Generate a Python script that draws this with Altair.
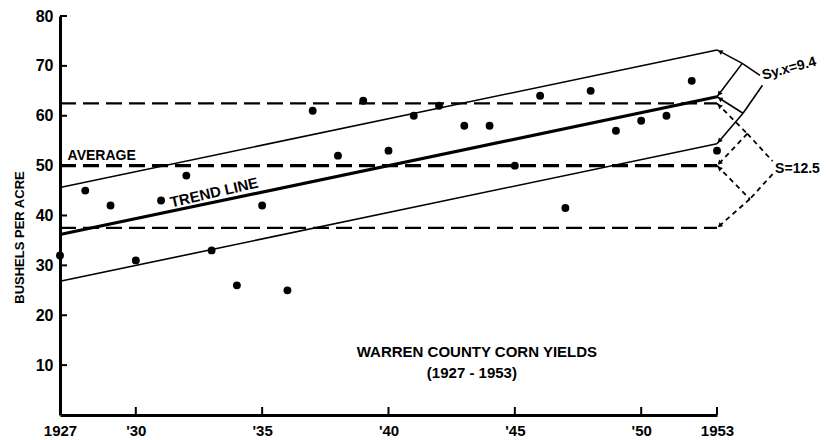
import math
import altair as alt
import pandas as pd

# ---------------- data ----------------
years = list(range(1927, 1954))
yields = [32, 45, 42, 31, 43, 48, 33, 26, 42, 25, 61, 52, 63, 53, 60,
          62, 58, 58, 50, 64, 41.5, 65, 57, 59, 60, 67, 53]

band_x = [1927, 1953]
trend_y = [36.2, 63.8]
upper_y = [45.6, 73.2]
lower_y = [26.8, 54.4]
band_names = ["trend", "upper", "lower"]
band_widths = [3.2, 1.6, 1.6]

mean_levels = [62.5, 50.0, 37.5]
mean_widths = [2.2, 3.2, 2.2]

x_tick_values = [1927, 1930, 1935, 1940, 1945, 1950, 1953]
x_tick_labels = ["1927", "'30", "'35", "'40", "'45", "'50", "1953"]
x_minor_ticks = [1930, 1935, 1940, 1945, 1950, 1953]
y_tick_values = [10, 20, 30, 40, 50, 60, 70, 80]

# bracket geometry (year, bushels): top end, middle, bottom end, vertices, label anchors
sy_pts = {"T": (1953, 73.2), "M": (1953, 63.8), "B": (1953, 54.4),
          "V1": (1954.0, 70.5), "V2": (1954.03, 60.5),
          "P1": (1954.7, 68.1), "P2": (1954.8, 66.1)}
s_pts = {"T": (1953, 62.5), "M": (1953, 50.0), "B": (1953, 37.5),
         "V1": (1954.2, 56.4), "V2": (1954.3, 43.3),
         "P1": (1955.2, 50.9), "P2": (1955.2, 48.3)}

ann_left_text = ["AVERAGE", "Sy.x=9.4", "S=12.5"]
ann_left_x = [1927.3, 1954.8, 1955.3]
ann_left_y = [52.0, 68.0, 49.4]
ann_left_angle = [0, 345, 0]
ann_left_size = [14, 14, 14]

ann_center_text = ["TREND LINE", "WARREN COUNTY CORN YIELDS", "(1927 - 1953)"]
ann_center_x = [1933.1, 1943.5, 1943.3]
ann_center_y = [44.6, 12.6, 8.4]
ann_center_angle = [347, 0, 0]

# ---------------- layout ----------------
W, H = 657, 399
PXX = W / (band_x[1] - band_x[0])
PXY = H / 80.0
FONT = "Liberation Sans"

xs = alt.Scale(domain=[1927, 1953], nice=False, zero=False)
ys = alt.Scale(domain=[0, 80], nice=False, zero=False)

label_expr = " : ".join(
    f'datum.value == {v} ? "{l}"' for v, l in zip(x_tick_values, x_tick_labels)
) + ' : ""'

X_AXIS = alt.Axis(values=x_tick_values, labelExpr=label_expr, ticks=False,
                  grid=False, domainWidth=3, domainColor="black",
                  labelFontSize=15, labelFontWeight="bold", labelFont=FONT,
                  labelColor="black", labelPadding=8, labelFlush=False,
                  labelOverlap=False, title=None)
Y_AXIS = alt.Axis(values=y_tick_values, ticks=False, grid=False,
                  domainWidth=3, domainColor="black",
                  labelFontSize=16, labelFontWeight="bold", labelFont=FONT,
                  labelColor="black", labelPadding=7, labelOverlap=False,
                  title="BUSHELS PER ACRE", titleFont=FONT, titleFontSize=13,
                  titleFontWeight="bold", titleColor="black",
                  titleAngle=270, titleX=-37, titleY=221,
                  titleAlign="center", titleBaseline="alphabetic")


def X(field):
    return alt.X(field, scale=xs, axis=X_AXIS)


def Y(field):
    return alt.Y(field, scale=ys, axis=Y_AXIS)


pts_df = pd.DataFrame({"year": years, "yield": yields})
points = alt.Chart(pts_df).mark_circle(size=62, color="black", opacity=1).encode(
    x=X("year:Q"), y=Y("yield:Q"))

# inward ticks
yt_df = pd.DataFrame({"v": y_tick_values})
y_ticks = alt.Chart(yt_df).mark_rule(color="black", strokeWidth=2).encode(
    y=Y("v:Q"), x=alt.value(0), x2=alt.value(7))
xt_df = pd.DataFrame({"v": x_minor_ticks})
x_ticks = alt.Chart(xt_df).mark_rule(color="black", strokeWidth=2).encode(
    x=X("v:Q"), y=alt.value(H), y2=alt.value(H - 8))

# mean +/- S dashed lines
mean_df = pd.DataFrame({"lvl": mean_levels, "x0": band_x[0], "x1": band_x[1], "w": mean_widths})
mean_lines = alt.Chart(mean_df).mark_rule(color="black", strokeDash=[16, 7]).encode(
    x=X("x0:Q"), x2="x1:Q", y=Y("lvl:Q"),
    strokeWidth=alt.StrokeWidth("w:Q", scale=None))

# trend line and +/- Sy.x band
band_df = pd.DataFrame({
    "name": band_names,
    "x0": [band_x[0]] * 3, "x1": [band_x[1]] * 3,
    "y0": [trend_y[0], upper_y[0], lower_y[0]],
    "y1": [trend_y[1], upper_y[1], lower_y[1]],
    "w": band_widths})
band_lines = alt.Chart(band_df).mark_rule(color="black").encode(
    x=X("x0:Q"), x2="x1:Q", y=Y("y0:Q"), y2="y1:Q",
    strokeWidth=alt.StrokeWidth("w:Q", scale=None))


def bracket_segments(p):
    segs = [("T", "V1"), ("V1", "P1"), ("V1", "M"), ("P2", "V2"), ("V2", "B"), ("M", "V2")]
    rows = []
    for a, b in segs:
        rows.append({"x0": p[a][0], "y0": p[a][1], "x1": p[b][0], "y1": p[b][1]})
    return pd.DataFrame(rows)


def bracket_arrows(p):
    pairs = [("V1", "T"), ("V1", "M"), ("V2", "M"), ("V2", "B")]
    rows = []
    for v, e in pairs:
        vx, vy = p[v]
        ex, ey = p[e]
        dxp = (ex - vx) * PXX
        dyp = -(ey - vy) * PXY
        L = math.hypot(dxp, dyp)
        ang = math.degrees(math.atan2(dxp, -dyp)) % 360
        cx = ex - (dxp / L * 3.5) / PXX
        cy = ey + (dyp / L * 3.5) / PXY
        rows.append({"x": cx, "y": cy, "a": ang})
    return pd.DataFrame(rows)


sy_lines = alt.Chart(bracket_segments(sy_pts)).mark_rule(color="black", strokeWidth=1.6).encode(
    x=X("x0:Q"), x2="x1:Q", y=Y("y0:Q"), y2="y1:Q")
s_lines = alt.Chart(bracket_segments(s_pts)).mark_rule(
    color="black", strokeWidth=1.8, strokeDash=[5, 4]).encode(
    x=X("x0:Q"), x2="x1:Q", y=Y("y0:Q"), y2="y1:Q")

arrows_df = pd.concat([bracket_arrows(sy_pts), bracket_arrows(s_pts)], ignore_index=True)
arrows = alt.Chart(arrows_df).mark_point(
    shape="triangle-up", filled=True, color="black", size=28, opacity=1).encode(
    x=X("x:Q"), y=Y("y:Q"), angle=alt.Angle("a:Q", scale=None))

left_df = pd.DataFrame({"t": ann_left_text, "x": ann_left_x, "y": ann_left_y,
                        "a": ann_left_angle, "s": ann_left_size})
left_text = alt.Chart(left_df).mark_text(
    align="left", baseline="middle", font=FONT, fontWeight="bold", color="black").encode(
    x=X("x:Q"), y=Y("y:Q"), text="t:N", angle=alt.Angle("a:Q", scale=None),
    size=alt.Size("s:Q", scale=None))

center_df = pd.DataFrame({"t": ann_center_text, "x": ann_center_x, "y": ann_center_y, "a": ann_center_angle})
center_text = alt.Chart(center_df).mark_text(
    align="center", baseline="middle", font=FONT, fontSize=15, fontWeight="bold", color="black").encode(
    x=X("x:Q"), y=Y("y:Q"), text="t:N", angle=alt.Angle("a:Q", scale=None))

chart = alt.layer(
    points, mean_lines, band_lines, sy_lines, s_lines, arrows, y_ticks, x_ticks,
    left_text, center_text,
).properties(
    width=W, height=H,
    autosize=alt.AutoSizeParams(type="none"),
    padding={"left": 52, "top": 8, "right": 105, "bottom": 24},
    background="white",
).configure_view(stroke=None)

chart.save("out.html", embed_options={"renderer": "svg", "actions": False})
